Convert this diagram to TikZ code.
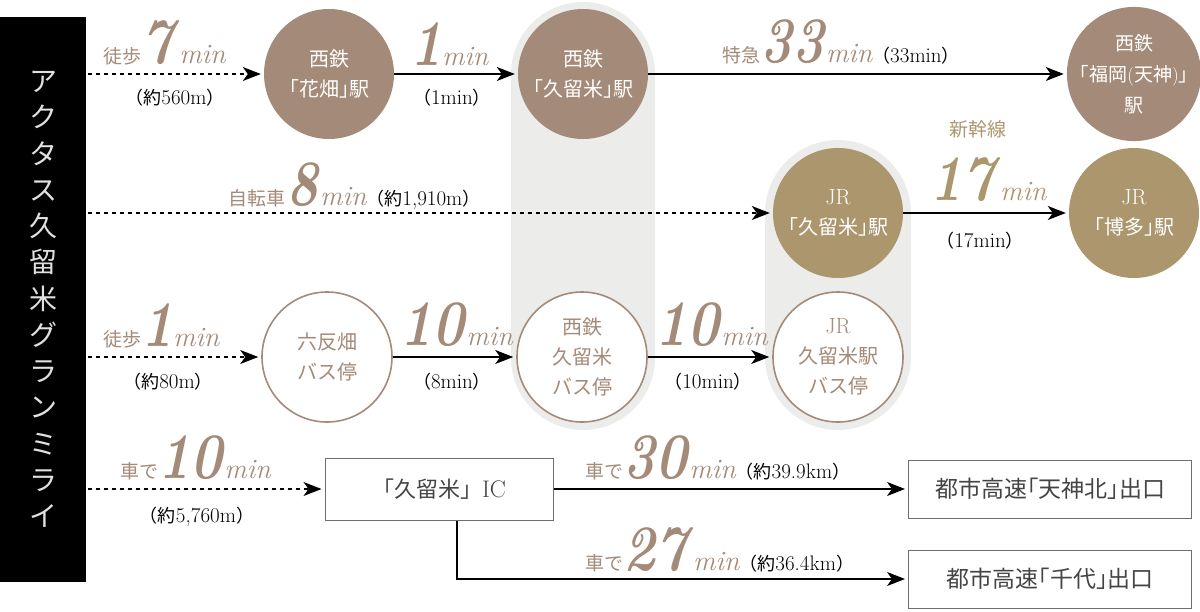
\documentclass[tikz,border=0pt]{standalone}
\usepackage{fontspec}
\newfontfamily\jp{Noto Sans CJK JP}
\usetikzlibrary{arrows.meta}
\definecolor{brn}{HTML}{A48A78}
\definecolor{gld}{HTML}{AB966E}
\definecolor{pill}{HTML}{ECECEA}
\definecolor{boxline}{HTML}{6E6E6E}
\definecolor{boxtext}{HTML}{444444}
% big minute numbers and small words
\newcommand\bignum[1]{\scalebox{1}[1.2]{\fontsize{54}{54}\selectfont\bfseries\itshape #1\/}}
\newcommand\minw{{\fontsize{28}{28}\selectfont\itshape min}}
\newcommand\jw[1]{{\jp\fontsize{19}{19}\selectfont #1}}
\newcommand\paren[2]{{\jp\fontsize{18}{18}\selectfont （#1}#2{\jp\fontsize{18}{18}\selectfont ）}}
\newcommand\subsize{\color{black}\fontsize{21}{21}\selectfont}

\tikzset{
  stn/.style={circle, minimum size=130pt, inner sep=0pt, align=center,
    font=\jp\fontsize{20}{30}\selectfont, text=white},
  nishi/.style={stn, fill=brn},
  jrst/.style={stn, fill=gld},
  busstop/.style={stn, fill=white, draw=brn, line width=1.6pt, text=brn},
  exitbox/.style={draw=boxline, line width=1pt, minimum width=283pt, minimum height=58pt,
    inner sep=0pt, font=\jp\fontsize{23}{23}\selectfont, text=boxtext},
  lab/.style={inner sep=0pt, anchor=base west, text=brn},
  sub/.style={inner sep=0pt, anchor=base, font=\fontsize{21}{21}\selectfont},
  arr/.style={line width=1.2pt, -{Stealth[length=18pt,width=14pt,inset=5pt]}, shorten >=3pt},
  dasharr/.style={arr, dash pattern=on 4pt off 4pt}
}

\begin{document}
\begin{tikzpicture}[x=1pt,y=-1pt]
  \useasboundingbox (0,0) rectangle (1200,611);
  % grey pills behind the transfer stations
  \fill[pill, rounded corners=72pt] (511,2) rectangle (655,430);
  \fill[pill, rounded corners=73pt] (765,140) rectangle (911,430);
  % title bar
  \node[fill=black, minimum width=86pt, minimum height=565pt, inner sep=0pt, align=center,
    text=white!88!black, font=\jp\fontsize{28}{36.25}\selectfont] (bar) at (43,299.5)
    {ア\\ク\\タ\\ス\\久\\留\\米\\グ\\ラ\\ン\\ミ\\ラ\\イ};
  % stations
  \node[nishi] (hanabata) at (329,74) {西鉄\\｢花畑｣駅};
  \node[nishi] (kurumeN) at (583,74) {西鉄\\｢久留米｣駅};
  \node[nishi, font=\jp\fontsize{19}{31}\selectfont] (tenjin) at (1134,74)
    {西鉄\\｢福岡{\rmfamily(}天神{\rmfamily)}｣\\駅};
  \node[jrst] (kurumeJR) at (838,213) {{\rmfamily\fontsize{22}{22}\selectfont JR}\\｢久留米｣駅};
  \node[jrst] (hakata) at (1134,213) {{\rmfamily\fontsize{22}{22}\selectfont JR}\\｢博多｣駅};
  % bus stops
  \node[busstop] (rokutan) at (327,357) {六反畑\\バス停};
  \node[busstop] (busN) at (582,357) {西鉄\\久留米\\バス停};
  \node[busstop] (busJR) at (838,357) {{\rmfamily\fontsize{22}{22}\selectfont JR}\\久留米駅\\バス停};
  % expressway
  \node[draw=boxline, line width=1pt, minimum width=228pt, minimum height=62pt, inner sep=0pt,
    text=boxtext, font=\fontsize{24}{24}\selectfont] (icK) at (439,489) {{\jp\fontsize{22}{22}\selectfont 「久留米」}IC};
  \node[exitbox] (exTenjin) at (1050,489) {都市高速｢天神北｣出口};
  \node[exitbox] (exChiyo) at (1050,579) {都市高速｢千代｣出口};
  % start points
  \coordinate (s1) at (88,74);
  \coordinate (s2) at (88,213);
  \coordinate (s3) at (88,357);
  \coordinate (s4) at (88,489);
  % connectors
  \draw[dasharr] (s1) -- (hanabata);
  \draw[arr] (hanabata) -- (kurumeN);
  \draw[arr] (kurumeN) -- (tenjin);
  \draw[dasharr] (s2) -- (kurumeJR);
  \draw[arr] (kurumeJR) -- (hakata);
  \draw[dasharr] (s3) -- (rokutan);
  \draw[arr] (rokutan) -- (busN);
  \draw[arr] (busN) -- (busJR);
  \draw[dasharr] (s4) -- (icK);
  \draw[arr] (icK) -- (exTenjin);
  \draw[arr] ([xshift=18pt]icK.south) |- (exChiyo);
  % times, row 1
  \node[lab] (t1) at (103,63) {\jw{徒歩}\bignum{7}\minw};
  \node[sub] (d1) at (175,104) {\paren{約}{560m}};
  \node[lab] (t2) at (410,65) {\bignum{1}\minw};
  \node[sub] (d2) at (452,104) {\paren{}{1min}};
  \node[lab] (t3) at (722,62) {\jw{特急}\bignum{33}\minw{\subsize\paren{}{33min}}};
  % row 2
  \node[lab] (t4) at (228,205) {\jw{自転車}\,\bignum{8}\minw{\subsize\paren{約}{1,910m}}};
  \node[lab, anchor=base, text=gld] (t5a) at (978,136) {\jw{新幹線}};
  \node[lab, text=gld] (t5) at (930,200) {\bignum{17}\minw};
  \node[sub] (d5) at (980,247) {\paren{}{17min}};
  % row 3
  \node[lab] (t6) at (103,346) {\jw{徒歩}\bignum{1}\minw};
  \node[sub] (d6) at (168,388) {\paren{約}{80m}};
  \node[lab] (t7) at (400,345) {\bignum{10}\minw};
  \node[sub] (d7) at (452,388) {\paren{}{8min}};
  \node[lab] (t8) at (655,345) {\bignum{10}\minw};
  \node[sub] (d8) at (708,388) {\paren{}{10min}};
  % row 4
  \node[lab] (t9) at (120,478) {\jw{車で}\bignum{10}\minw};
  \node[sub] (d9) at (197,522) {\paren{約}{5,760m}};
  \node[lab] (t10) at (585,478) {\jw{車で}\bignum{30}\minw{\subsize\paren{約}{39.9km}}};
  \node[lab] (t11) at (585,570) {\jw{車で}\bignum{27}\minw{\subsize\paren{約}{36.4km}}};
\end{tikzpicture}
\end{document}
